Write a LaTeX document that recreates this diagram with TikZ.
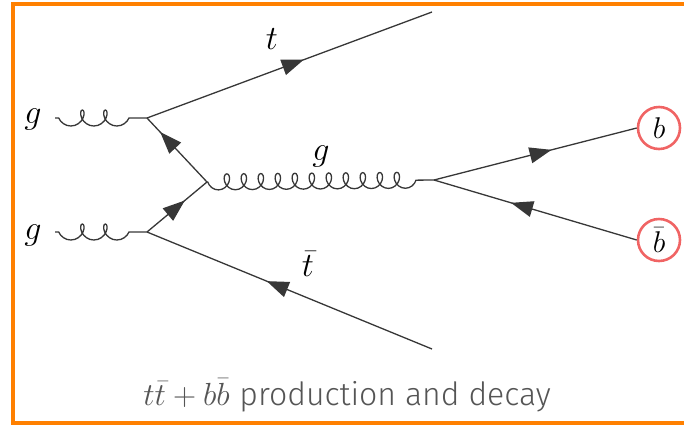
\documentclass[tikz,border=0pt]{standalone}
\usepackage{fix-cm}
\usepackage{fontspec}
\newfontfamily\capfont{Fira Sans Light}
\usepackage{tikz}
\usetikzlibrary{arrows.meta,decorations.pathmorphing,decorations.markings}
\definecolor{frameorange}{RGB}{255,128,0}
\definecolor{linegray}{RGB}{55,55,55}
\definecolor{circred}{RGB}{240,100,100}
\definecolor{capgray}{RGB}{85,85,85}

\begin{document}
\begin{tikzpicture}[x=1pt, y=-1pt, font=\fontsize{34}{40}\selectfont]
  \tikzset{gluon/.style={draw=linegray, line width=1.3pt, decorate, decoration={coil, aspect=0.8, segment length=#1, amplitude=8pt, pre length=18pt}},gluon/.default=17pt,fermion/.style={draw=linegray, line width=1.3pt, postaction={decorate}, decoration={markings, mark=at position #1 with {\arrow{Triangle[length=22pt,width=16pt]}}}},quark/.style={draw=circred, line width=2.6pt, circle, minimum size=42pt, inner sep=0pt, font=\fontsize{30}{36}\selectfont}}
  \useasboundingbox (0,0) rectangle (684,424);
  \draw[frameorange, line width=4pt] (13,4) rectangle (720,423);
  % vertices and free ends
  \coordinate (v1) at (147,118);
  \coordinate (v2) at (147,232);
  \coordinate (v3) at (207,182);
  \coordinate (v4) at (434,180);
  \coordinate (gin1) at (55,118);
  \coordinate (gin2) at (55,232);
  \coordinate (tout) at (432,12);
  \coordinate (tbout) at (432,349);
  % labels
  \node (g1) at (33,119) {$g$};
  \node (g2) at (33,235) {$g$};
  \node (tlab) at (272,39) {$t$};
  \node (tblab) at (308,264) {$\bar{t}$};
  \node (glab) at (321,156) {$g$};
  \node[quark] (b) at (659,128) {$b$};
  \node[quark] (bb) at (659,240) {$\bar{b}$};
  % lines
  \draw[gluon=23pt] (v1) -- (gin1);
  \draw[gluon=23pt] (v2) -- (gin2);
  \draw[gluon] (v4) -- (v3);
  \draw[fermion=0.55] (v1) -- (tout);
  \draw[fermion=0.78] (v3) -- (v1);
  \draw[fermion=0.63] (v2) -- (v3);
  \draw[fermion=0.58] (tbout) -- (v2);
  \draw[fermion=0.58] (v4) -- (b.west);
  \draw[fermion=0.62] (bb.west) -- (v4);
  \node[text=capgray, anchor=base, font=\fontsize{32}{38}\selectfont] (caption) at (347,405) {$t\bar{t}+b\bar{b}$ {\capfont production and decay}};
\end{tikzpicture}
\end{document}
